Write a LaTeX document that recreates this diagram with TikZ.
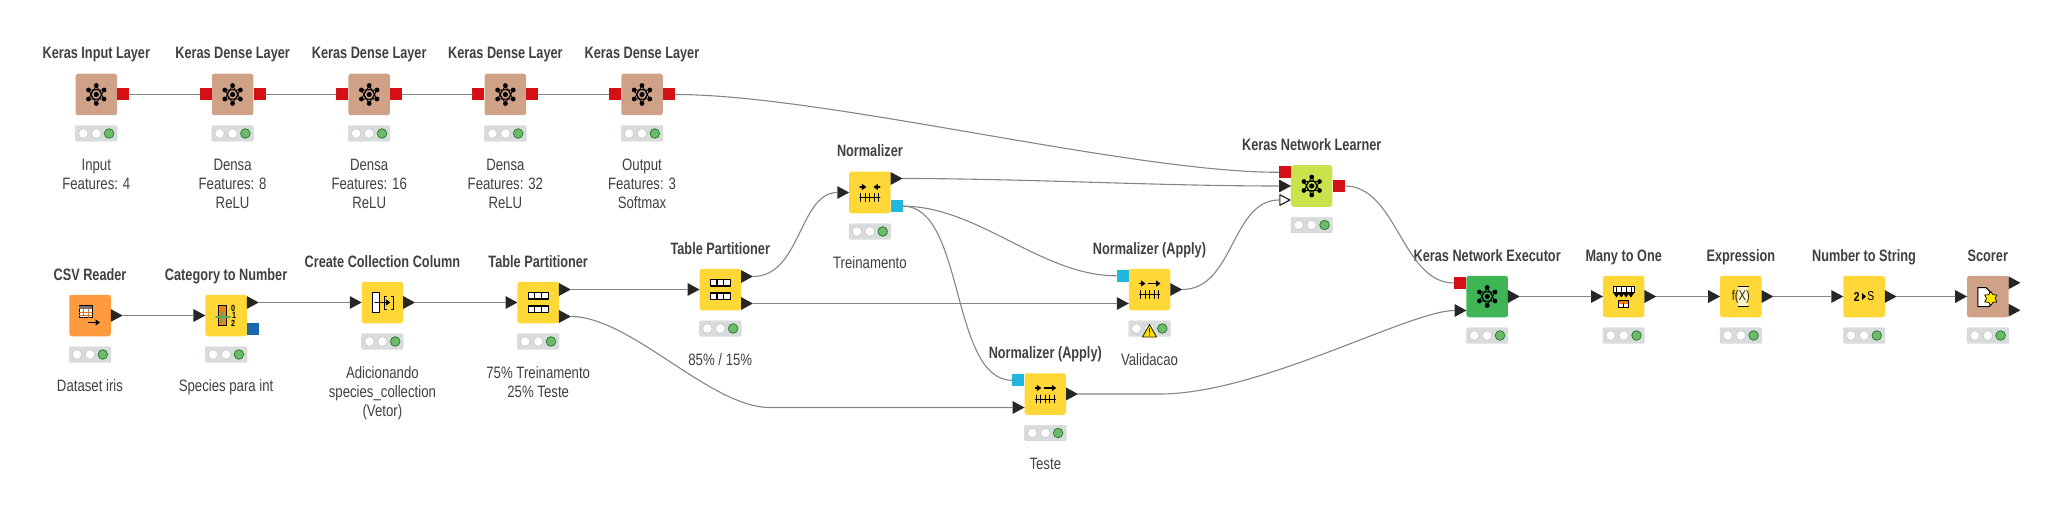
\documentclass[tikz,border=0pt]{standalone}
\usepackage{fontspec}
\setmainfont[FakeStretch=0.80]{Liberation Sans}
\newfontfamily\titlefont[FakeStretch=0.771]{Liberation Sans}
\usetikzlibrary{arrows.meta,calc,shapes.geometric}

\definecolor{kbrown}{HTML}{CFA186}
\definecolor{kyellow}{HTML}{FFD736}
\definecolor{korange}{HTML}{FF9A3E}
\definecolor{klime}{HTML}{C9E34C}
\definecolor{kgreen}{HTML}{40B556}
\definecolor{kred}{HTML}{D40F15}
\definecolor{kblue}{HTML}{1B68AE}
\definecolor{kcyan}{HTML}{20B8DC}
\definecolor{kdark}{HTML}{262626}
\definecolor{ktext}{HTML}{404040}
\definecolor{kwire}{HTML}{858585}
\definecolor{klamp}{HTML}{6CBB6A}
\definecolor{klampedge}{HTML}{2E7D32}
\definecolor{kpanel}{HTML}{D9DCDC}

\tikzset{
    kbox/.style={minimum size=41.5pt,inner sep=0pt,rounded corners=2.5pt,fill=#1},
    klights/.style={minimum width=41.5pt,minimum height=15.5pt,inner sep=0pt,rounded corners=1pt,fill=kpanel,draw=black!18},
    ktitle/.style={anchor=base,inner sep=0pt,text=ktext,font=\titlefont\bfseries\fontsize{16.5}{19.2}\selectfont},
    klabel/.style={anchor=north,inner sep=0pt,align=center,text=ktext,font=\fontsize{16.5}{19.2}\selectfont},
    triport/.style={minimum width=11.5pt,minimum height=12.5pt,inner sep=0pt},
    sqport/.style={minimum size=12pt,inner sep=0pt,fill=#1},
    wire/.style={kwire,line width=1.1pt},
    iconarrow/.style={line width=1.1pt,-{Triangle[length=4.5pt,width=6pt]}},
}

% workflow node: name, x, y, colour, title
\newcommand{\knime}[5]{
    \node[kbox=#4] (#1) at (#2,#3) {};
    \node[ktitle] (#1-title) at ($(#1)+(0,-35.5)$) {#5};
    \node[klights] (#1-lights) at ($(#1)+(0,39)$) {};
    \foreach \d in {-13,0} \filldraw[fill=white,draw=black!28] ($(#1-lights)+(\d,0)$) circle (4.8);
    \filldraw[fill=klamp,draw=klampedge,line width=.8pt] ($(#1-lights)+(12.8,0)$) circle (4.8);
}
\newcommand{\kcaption}[2]{\node[klabel] (#1-label) at ($(#1)+(0,62)$) {\strut #2};}

% ports: name, box, y offset
\newcommand{\outport}[3]{
    \node[triport] (#1) at ($(#2.east)+(5.75,#3)$) {};
    \fill[kdark] (#1.north west) -- (#1.east) -- (#1.south west) -- cycle;
}
\newcommand{\inport}[3]{
    \node[triport] (#1) at ($(#2.west)+(-5.75,#3)$) {};
    \fill[kdark] (#1.north west) -- (#1.east) -- (#1.south west) -- cycle;
}
\newcommand{\sqout}[4]{\node[sqport=#4] (#1) at ($(#2.east)+(6,#3)$) {};}
\newcommand{\sqin}[4]{\node[sqport=#4] (#1) at ($(#2.west)+(-6,#3)$) {};}

% icons
\newcommand{\kerasicon}[1]{
    \begin{scope}[shift={(#1.center)}]
        \draw[line width=.8pt] (0,0) circle (5.5);
        \draw[line width=.8pt] (90:9) -- (210:9) -- (330:9) -- cycle (30:9) -- (150:9) -- (270:9) -- cycle;
        \foreach \a in {30,90,...,330} \fill (\a:9) circle (2.4);
        \fill (0,0) circle (2.6);
    \end{scope}
}
\newcommand{\particon}[1]{
    \begin{scope}[shift={(#1.center)}]
        \foreach \r in {-6.7,6.7} {
            \draw[fill=white,line width=1.1pt] (-10,\r-3.2) rectangle (10,\r+3.2);
            \draw[line width=1.1pt] (-3.3,\r-3.2) -- (-3.3,\r+3.2) (3.3,\r-3.2) -- (3.3,\r+3.2);
        }
    \end{scope}
}
\newcommand{\ruler}{
    \draw[line width=.9pt] (-10,5) -- (10,5);
    \foreach \t in {-9,-4.5,0,4.5,9} \draw[line width=.9pt] (\t,1) -- (\t,9);
}
\newcommand{\normicon}[1]{
    \begin{scope}[shift={(#1.center)}]
        \ruler
        \draw[iconarrow] (-10,-5.5) -- (-3.5,-5.5);
        \draw[iconarrow] (10,-5.5) -- (3.5,-5.5);
    \end{scope}
}
\newcommand{\applyicon}[1]{
    \begin{scope}[shift={(#1.center)}]
        \ruler
        \draw[iconarrow] (-10,-6) -- (-4,-6);
        \draw[iconarrow] (-1,-6) -- (11,-6);
    \end{scope}
}

\begin{document}
\begin{tikzpicture}[x=1pt,y=-1pt,line cap=round,line join=round]
    \useasboundingbox (0,0) rectangle (2057,508);

    % keras layers
    \knime{inlayer}{96.3}{94.5}{kbrown}{Keras Input Layer}
    \knime{dense1}{232.6}{94.5}{kbrown}{Keras Dense Layer}
    \knime{dense2}{369.2}{94.5}{kbrown}{Keras Dense Layer}
    \knime{dense3}{505.4}{94.5}{kbrown}{Keras Dense Layer}
    \knime{outlayer}{642}{94.5}{kbrown}{Keras Dense Layer}
    \kcaption{inlayer}{Input\\Features: 4}
    \kcaption{dense1}{Densa\\Features: 8\\ReLU}
    \kcaption{dense2}{Densa\\Features: 16\\ReLU}
    \kcaption{dense3}{Densa\\Features: 32\\ReLU}
    \kcaption{outlayer}{Output\\Features: 3\\Softmax}
    \foreach \n in {inlayer,dense1,dense2,dense3,outlayer} {\kerasicon{\n}}
    \sqout{inlayer-out}{inlayer}{0}{kred}
    \foreach \n in {dense1,dense2,dense3,outlayer} {
        \sqin{\n-in}{\n}{0}{kred}
        \sqout{\n-out}{\n}{0}{kred}
    }

    % data row
    \knime{csv}{90}{315.5}{korange}{CSV Reader}
    \knime{cat}{226.1}{315.5}{kyellow}{Category to Number}
    \knime{coll}{382.4}{302.5}{kyellow}{Create Collection Column}
    \knime{part1}{538.2}{302.5}{kyellow}{Table Partitioner}
    \knime{part2}{720.3}{289.5}{kyellow}{Table Partitioner}
    \knime{norm}{869.9}{192.5}{kyellow}{Normalizer}
    \knime{applyval}{1149.5}{289.5}{kyellow}{Normalizer (Apply)}
    \knime{applytest}{1045.3}{394}{kyellow}{Normalizer (Apply)}
    \knime{learner}{1311.7}{186}{klime}{Keras Network Learner}
    \knime{executor}{1487.2}{296.5}{kgreen}{Keras Network Executor}
    \knime{many}{1623.7}{296.5}{kyellow}{Many to One}
    \knime{expr}{1740.8}{296.5}{kyellow}{Expression}
    \knime{numstr}{1864}{296.5}{kyellow}{Number to String}
    \knime{scorer}{1987.8}{296.5}{kbrown}{Scorer}
    \kcaption{csv}{Dataset iris}
    \kcaption{cat}{Species para int}
    \kcaption{coll}{Adicionando\\species\_collection\\(Vetor)}
    \kcaption{part1}{75\% Treinamento\\25\% Teste}
    \kcaption{part2}{85\% / 15\%}
    \kcaption{norm}{Treinamento}
    \kcaption{applyval}{Validacao}
    \kcaption{applytest}{Teste}

    % ports
    \outport{csv-out}{csv}{0}
    \inport{cat-in}{cat}{0}
    \outport{cat-out}{cat}{-13}
    \sqout{cat-model}{cat}{13.7}{kblue}
    \inport{coll-in}{coll}{0}
    \outport{coll-out}{coll}{0}
    \inport{part1-in}{part1}{0}
    \outport{part1-top}{part1}{-13}
    \outport{part1-bot}{part1}{14}
    \inport{part2-in}{part2}{0}
    \outport{part2-top}{part2}{-13}
    \outport{part2-bot}{part2}{14}
    \inport{norm-in}{norm}{0}
    \outport{norm-out}{norm}{-14}
    \sqout{norm-model}{norm}{13.7}{kcyan}
    \sqin{applyval-model}{applyval}{-13.7}{kcyan}
    \inport{applyval-in}{applyval}{14}
    \outport{applyval-out}{applyval}{0}
    \sqin{applytest-model}{applytest}{-13.7}{kcyan}
    \inport{applytest-in}{applytest}{13.5}
    \outport{applytest-out}{applytest}{0}
    \sqin{learner-net}{learner}{-13.7}{kred}
    \inport{learner-in}{learner}{0}
    \node[triport] (learner-val) at ($(learner.west)+(-5.75,14)$) {};
    \filldraw[fill=white,draw=kdark,line width=1.2pt] ($(learner-val.north west)+(.8,1.2)$) -- ($(learner-val.east)+(-1,0)$) -- ($(learner-val.south west)+(.8,-1.2)$) -- cycle;
    \sqout{learner-out}{learner}{0}{kred}
    \sqin{executor-net}{executor}{-13.5}{kred}
    \inport{executor-in}{executor}{14}
    \outport{executor-out}{executor}{0}
    \inport{many-in}{many}{0}
    \outport{many-out}{many}{0}
    \inport{expr-in}{expr}{0}
    \outport{expr-out}{expr}{0}
    \inport{numstr-in}{numstr}{0}
    \outport{numstr-out}{numstr}{0}
    \inport{scorer-in}{scorer}{0}
    \outport{scorer-top}{scorer}{-13.7}
    \outport{scorer-bot}{scorer}{13.7}

    % icons of the data row
    \foreach \n in {learner,executor} {\kerasicon{\n}}
    \foreach \n in {part1,part2} {\particon{\n}}
    \normicon{norm}
    \applyicon{applyval}
    \applyicon{applytest}

    \begin{scope}[shift={(csv.center)}] % table and arrow
        \draw[fill=white,line width=1pt] (-10.7,-10) rectangle (2.3,2.4);
        \fill[black!55] (-10.7,-10) rectangle (2.3,-6.5);
        \draw[line width=.6pt,korange!80!black] (-6.4,-6.5) -- (-6.4,2.4) (-2,-6.5) -- (-2,2.4) (-10.7,-3.5) -- (2.3,-3.5) (-10.7,-.5) -- (2.3,-.5);
        \draw[iconarrow] (-1.7,7) -- (10,7);
    \end{scope}
    \begin{scope}[shift={(cat.center)}] % column and digits
        \draw[fill=orange!75!brown,line width=1pt] (-7.7,-10) rectangle (0,10);
        \draw[line width=2pt,green!50!black!65!white] (-10,1.5) -- (4,1.5) (-4,-3.5) -- (-4,6.5);
        \node[inner sep=0pt,font=\bfseries\fontsize{9}{9}\selectfont] (cat-zero) at (7,-7) {0};
        \node[inner sep=0pt,font=\bfseries\fontsize{9}{9}\selectfont] (cat-one) at (8,0) {1};
        \node[inner sep=0pt,font=\bfseries\fontsize{9}{9}\selectfont] (cat-two) at (7,7.5) {2};
    \end{scope}
    \begin{scope}[shift={(coll.center)}] % column into brackets
        \draw[fill=white,line width=1pt] (-9.7,-10) rectangle (-3,10);
        \draw[line width=1pt] (4,-6.5) -- (2,-6.5) -- (2,6.5) -- (4,6.5) (9,-6.5) -- (11,-6.5) -- (11,6.5) -- (9,6.5);
        \draw[iconarrow,line width=1.3pt] (-7.5,0) -- (8,0);
    \end{scope}
    \begin{scope}[shift={(many.center)}] % cells down to one cell
        \draw[fill=white,line width=.9pt] (-10.7,-10.5) rectangle (10.7,-4.5);
        \foreach \c in {-7.2,-2.4,2.4,7.2} \draw[iconarrow,line width=.8pt] (\c,-9) -- (\c,1);
        \draw[fill=white,line width=.9pt] (-5,3.7) rectangle (5,10.5);
        \fill[orange!70!brown] (-4.5,4.2) rectangle (4.5,7);
        \draw[line width=.9pt] (0,7) -- (0,10.5);
    \end{scope}
    \begin{scope}[shift={(expr.center)}] % formula
        \fill[white!75!kyellow] (-2.5,-10) rectangle (7.5,10);
        \draw[line width=.9pt] (-2.5,-10) -- (7.5,-10) (-2.5,10) -- (7.5,10);
        \node[inner sep=0pt,text=kdark,font=\fontsize{14}{14}\selectfont] (expr-icon) at (0,0) {f(X)};
    \end{scope}
    \begin{scope}[shift={(numstr.center)}] % digit to letter
        \node[inner sep=0pt,font=\bfseries\fontsize{13}{13}\selectfont] (numstr-num) at (-7.3,0) {2};
        \node[inner sep=0pt,font=\fontsize{13}{13}\selectfont] (numstr-str) at (6.7,0) {S};
        \fill (-2,-3.5) -- (2,0) -- (-2,3.5) -- cycle;
    \end{scope}
    \begin{scope}[shift={(scorer.center)}] % sheet and star
        \draw[fill=white,line width=1pt] (-10,-9) -- (-2,-9) -- (2,-5) -- (2,10) -- (-10,10) -- cycle;
        \node[star,star points=6,star point ratio=1.6,minimum size=14pt,inner sep=0pt,fill=yellow!90!orange,draw=black,line width=.7pt] (scorer-star) at (3,2) {};
    \end{scope}

    % warning under the validation node
    \filldraw[fill=yellow!80!orange,draw=kdark,line width=.9pt] ($(applyval-lights)+(-7,8.5)$) -- ($(applyval-lights)+(0,-4)$) -- ($(applyval-lights)+(7,8.5)$) -- cycle;
    \draw[kdark,line width=1pt] ($(applyval-lights)+(0,0)$) -- ($(applyval-lights)+(0,4)$) ($(applyval-lights)+(0,6)$) -- ($(applyval-lights)+(0,6.5)$);

    % connectors
    \draw[wire] (inlayer-out.east) -- (dense1-in.west);
    \draw[wire] (dense1-out.east) -- (dense2-in.west);
    \draw[wire] (dense2-out.east) -- (dense3-in.west);
    \draw[wire] (dense3-out.east) -- (outlayer-in.west);
    \draw[wire] (outlayer-out.east) .. controls +(150,0) and +(-150,0) .. (learner-net.west);
    \draw[wire] (csv-out.east) -- (cat-in.west);
    \draw[wire] (cat-out.east) -- (coll-in.west);
    \draw[wire] (coll-out.east) -- (part1-in.west);
    \draw[wire] (part1-top.east) -- (part2-in.west);
    \coordinate (bendtest) at (770,407.5);
    \draw[wire] (part1-bot.east) .. controls +(60,0) and +(-60,0) .. (bendtest) -- (applytest-in.west);
    \draw[wire] (part2-top.east) .. controls +(48,0) and +(-38,0) .. (norm-in.west);
    \draw[wire] (part2-bot.east) -- (applyval-in.west);
    \draw[wire] (norm-out.east) .. controls +(120,0) and +(-120,0) .. (learner-in.west);
    \draw[wire] (norm-model.east) .. controls +(75,0) and +(-75,0) .. (applyval-model.west);
    \draw[wire] (norm-model.east) .. controls +(62,0) and +(-62,0) .. (applytest-model.west);
    \draw[wire] (applyval-out.east) .. controls +(52,0) and +(-48,0) .. (learner-val.west);
    \draw[wire] (learner-out.east) .. controls +(52,0) and +(-52,0) .. (executor-net.west);
    \coordinate (bendexec) at (1160,394);
    \draw[wire] (applytest-out.east) -- (bendexec) .. controls +(100,0) and +(-45,0) .. (executor-in.west);
    \draw[wire] (executor-out.east) -- (many-in.west);
    \draw[wire] (many-out.east) -- (expr-in.west);
    \draw[wire] (expr-out.east) -- (numstr-in.west);
    \draw[wire] (numstr-out.east) -- (scorer-in.west);

\end{tikzpicture}
\end{document}
